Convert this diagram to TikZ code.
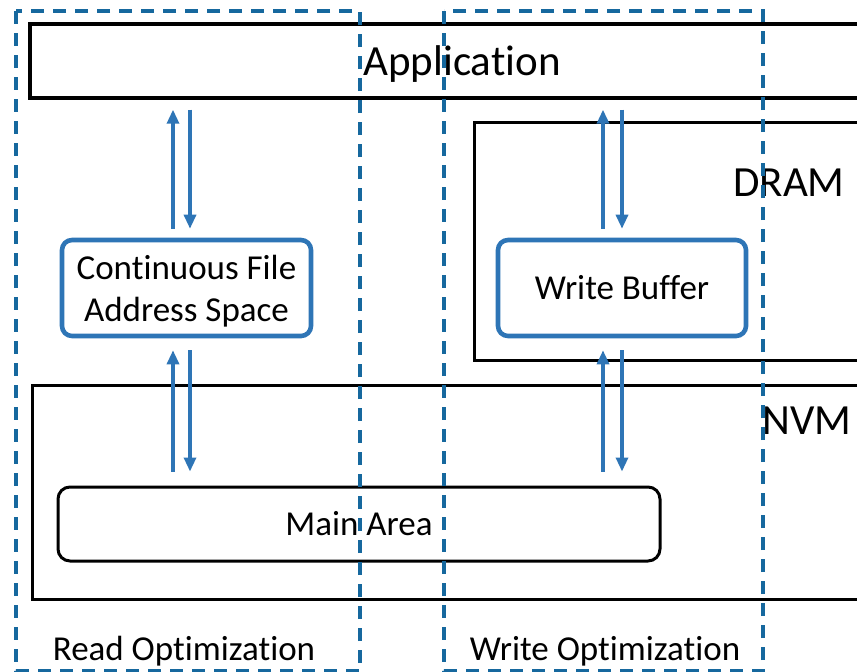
\documentclass[tikz,border=0pt]{standalone}
\usepackage{fontspec}
\setmainfont[Ligatures=NoCommon]{Carlito}
\usepackage{xcolor}
\usepackage{tikz}
\usetikzlibrary{arrows.meta}
\definecolor{flowblue}{RGB}{46,117,182}
\definecolor{optblue}{RGB}{22,104,158}

\begin{document}
\begin{tikzpicture}[x=1pt, y=-1pt,
    every node/.style={font=\fontsize{35}{42}\selectfont, inner sep=0pt},
    bigtext/.style={font=\fontsize{43}{50}\selectfont},
    layer/.style={draw, line width=3pt},
    bufbox/.style={draw=flowblue, line width=4.6pt, rounded corners=10pt, align=center},
    flow/.style={draw=flowblue, line width=3.2pt, -{Triangle[width=12pt,length=14pt]}},
    optbox/.style={draw=optblue, line width=3.4pt, dash pattern=on 13pt off 9pt}]
    \useasboundingbox (0,0) rectangle (857,672);
    \clip (0,0) rectangle (857,672);

    % Draw the layers as large rectangles
    \node[layer, bigtext, line width=3.4pt, text depth=0pt, minimum width=864pt, minimum height=74pt] (app) at (462,61) {Application};
    \node[layer, anchor=north west, minimum width=440pt, minimum height=238pt] (dram) at (473,121) {};
    \node[bigtext] (dramlbl) at (789,183) {DRAM};
    \node[layer, anchor=north west, minimum width=880pt, minimum height=214pt] (nvm) at (31,384) {};
    \node[bigtext] (nvmlbl) at (807,421) {NVM};

    % Draw the buffers and the main area
    \node[bufbox, text depth=0pt, minimum width=249pt, minimum height=96pt] (cfas) at (186.5,288) {Continuous File\\Address Space};
    \node[bufbox, minimum width=248pt, minimum height=96pt] (wbuf) at (622,288) {Write Buffer};
    \node[draw, line width=3pt, rounded corners=12pt, minimum width=602pt, minimum height=74pt] (main) at (359,524) {Main Area};

    % Draw arrow pairs above and below each buffer
    \foreach \buf/\up/\dn in {cfas/-13.5/3.5, wbuf/-19/0} {
        \draw[flow, shorten <=9pt, shorten >=10pt] ([xshift=\up pt]\buf.north) -- ([xshift=\up pt]\buf.north |- app.south);
        \draw[flow, shorten <=10pt, shorten >=9pt] ([xshift=\dn pt]\buf.north |- app.south) -- ([xshift=\dn pt]\buf.north);
        \draw[flow, shorten <=14pt, shorten >=12pt] ([xshift=\up pt]\buf.south |- main.north) -- ([xshift=\up pt]\buf.south);
        \draw[flow, shorten <=12pt, shorten >=14pt] ([xshift=\dn pt]\buf.south) -- ([xshift=\dn pt]\buf.south |- main.north);
    }

    % Draw the optimization regions
    \draw[optbox] (16,11) rectangle (360,671);
    \node[text depth=0pt] (readlbl) at (184,648) {Read Optimization};
    \draw[optbox] (444,11) rectangle (763,671);
    \node[text depth=0pt] (writelbl) at (605,648) {Write Optimization};
\end{tikzpicture}
\end{document}
